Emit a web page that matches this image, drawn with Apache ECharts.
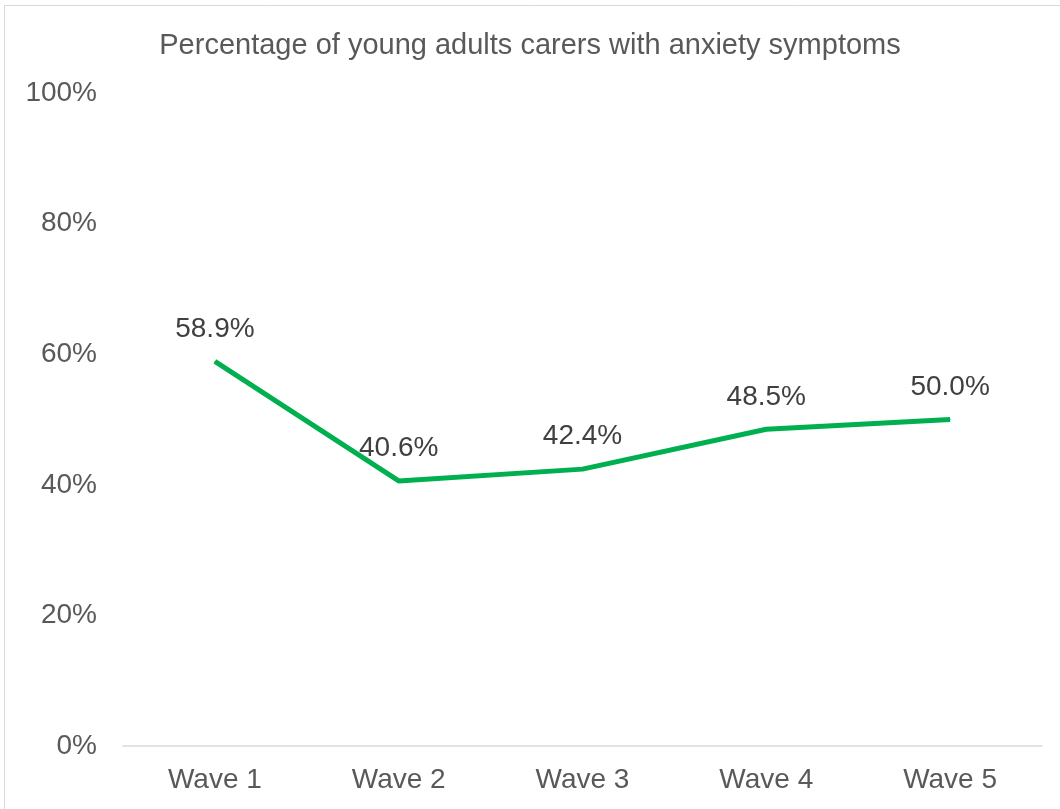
<!DOCTYPE html>
<html>
<head>
<meta charset="utf-8">
<script src="https://cdn.jsdelivr.net/npm/echarts@6/dist/echarts.min.js"></script>
<style>
  html, body { margin: 0; padding: 0; background: #fff; }
  #main { width: 1060px; height: 809px; }
</style>
</head>
<body>
<div id="main"></div>
<script>
// data
const chartTitle = 'Percentage of young adults carers with anxiety symptoms'
const waves = ['Wave 1', 'Wave 2', 'Wave 3', 'Wave 4', 'Wave 5']
const anxietyPct = [58.9, 40.6, 42.4, 48.5, 50.0]

const font = '"Liberation Sans", Arial, sans-serif'
const chart = echarts.init(document.getElementById('main'))

chart.setOption({
  backgroundColor: '#fff',
  animation: false,
  graphic: [{
    type: 'rect',
    shape: { x: 4.5, y: 5.5, width: 1100, height: 900 },
    style: { fill: 'none', stroke: '#d9d9d9', lineWidth: 1 },
    silent: true
  }],
  title: {
    text: chartTitle,
    left: 'center',
    top: 26,
    textStyle: { fontFamily: font, fontSize: 29, fontWeight: 'normal', color: '#595959' }
  },
  grid: { left: 123, right: 18, top: 93, bottom: 63, containLabel: false },
  xAxis: {
    type: 'category',
    data: waves,
    boundaryGap: true,
    axisLine: { lineStyle: { color: '#d9d9d9', width: 1.5 } },
    axisTick: { show: false },
    axisLabel: { fontFamily: font, fontSize: 28, color: '#595959', margin: 20 }
  },
  yAxis: {
    type: 'value',
    min: 0,
    max: 100,
    interval: 20,
    splitLine: { show: false },
    axisLine: { show: false },
    axisTick: { show: false },
    axisLabel: {
      fontFamily: font, fontSize: 28, color: '#595959', margin: 26,
      formatter: v => v + '%'
    }
  },
  series: [{
    type: 'line',
    data: anxietyPct,
    symbol: 'circle',
    symbolSize: 1,
    showSymbol: true,
    itemStyle: { color: '#00B050' },
    lineStyle: { color: '#00B050', width: 5 },
    label: {
      show: true,
      position: 'top',
      distance: 18,
      fontFamily: font,
      fontSize: 28,
      color: '#404040',
      formatter: p => p.value.toFixed(1) + '%'
    }
  }]
})
</script>
</body>
</html>
